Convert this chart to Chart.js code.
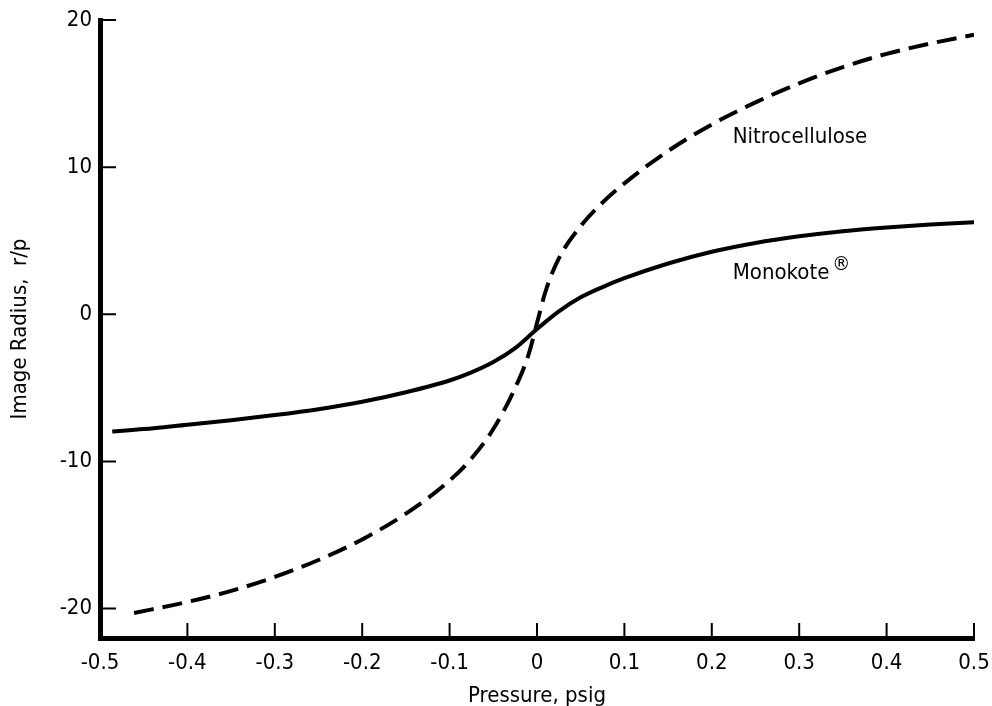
<!DOCTYPE html>
<html>
<head>
<meta charset="utf-8">
<script src="https://cdn.jsdelivr.net/npm/chart.js@4.4.1/dist/chart.umd.min.js"></script>
<style>
  html, body { margin: 0; padding: 0; background: #fff; }
  #wrap { width: 992px; height: 706px; }
</style>
</head>
<body>
<div id="wrap"><canvas id="chart" width="992" height="706"></canvas></div>
<script>
/* ============================
   DATA
============================ */

const monoX = [-0.486, -0.45, -0.4, -0.35, -0.3, -0.25, -0.2, -0.15, -0.1, -0.075, -0.05, -0.025, 0, 0.025, 0.05, 0.075, 0.1, 0.15, 0.2, 0.25, 0.3, 0.35, 0.4, 0.45, 0.5];
const monoY = [-7.96, -7.8, -7.5, -7.2, -6.85, -6.45, -5.95, -5.3, -4.5, -3.95, -3.25, -2.3, -1.0, 0.2, 1.15, 1.85, 2.45, 3.45, 4.25, 4.85, 5.3, 5.65, 5.9, 6.1, 6.25];

const nitroX = [-0.461, -0.4, -0.35, -0.3, -0.25, -0.2, -0.15, -0.1, -0.075, -0.05, -0.025, -0.01, 0, 0.01, 0.025, 0.05, 0.075, 0.1, 0.15, 0.2, 0.25, 0.3, 0.35, 0.4, 0.45, 0.5];
const nitroY = [-20.3, -19.55, -18.8, -17.85, -16.7, -15.3, -13.55, -11.3, -9.8, -7.8, -5.0, -2.8, -0.6, 1.6, 3.8, 6.0, 7.6, 8.9, 11.1, 12.9, 14.4, 15.7, 16.8, 17.7, 18.4, 19.0];

const xTicks = [-0.5, -0.4, -0.3, -0.2, -0.1, 0, 0.1, 0.2, 0.3, 0.4, 0.5];
const xTickLabels = ["-0.5", "-0.4", "-0.3", "-0.2", "-0.1", "0", "0.1", "0.2", "0.3", "0.4", "0.5"];
const yTicks = [-20, -10, 0, 10, 20];
const yTickLabels = ["-20", "-10", "0", "10", "20"];

const FONT = "'Liberation Sans Narrow', 'DejaVu Sans Condensed', sans-serif";

/* ============================
   INWARD TICKS + CURVE LABELS
============================ */

const innerTicks = {
  id: "innerTicks",
  afterDraw(chart){
    const { ctx } = chart;
    const xs = chart.scales.x;
    const ys = chart.scales.y;
    const area = chart.chartArea;

    ctx.save();
    ctx.strokeStyle = "#000";
    ctx.lineWidth = 2;
    ctx.beginPath();
    xTicks.forEach(v => {
      const px = xs.getPixelForValue(v);
      ctx.moveTo(px, area.bottom);
      ctx.lineTo(px, area.bottom - 15);
    });
    yTicks.forEach(v => {
      const py = ys.getPixelForValue(v);
      ctx.moveTo(area.left, py);
      ctx.lineTo(area.left + 16, py);
    });
    ctx.stroke();

    // curve labels
    ctx.fillStyle = "#000";
    ctx.font = "22px " + FONT;
    ctx.textAlign = "left";
    ctx.textBaseline = "middle";
    const lx = xs.getPixelForValue(0.224);
    ctx.fillText("Nitrocellulose", lx, ys.getPixelForValue(12.0));
    const my = ys.getPixelForValue(2.8);
    ctx.fillText("Monokote", lx, my);
    const w = ctx.measureText("Monokote").width;
    ctx.font = "20px " + FONT;
    ctx.fillText("\u00AE", lx + w + 3, my - 8);
    ctx.restore();
  }
};

/* ============================
   CHART
============================ */

const toPoints = (xs, ys) => xs.map((x, i) => ({ x: x, y: ys[i] }));

new Chart(document.getElementById("chart"), {
  type: "line",
  data: {
    datasets: [
      {
        label: "Nitrocellulose",
        data: toPoints(nitroX, nitroY),
        borderColor: "#000",
        borderWidth: 4,
        borderDash: [20, 9],
        pointRadius: 0,
        cubicInterpolationMode: "monotone",
        fill: false
      },
      {
        label: "Monokote",
        data: toPoints(monoX, monoY),
        borderColor: "#000",
        borderWidth: 4,
        pointRadius: 0,
        cubicInterpolationMode: "monotone",
        fill: false
      }
    ]
  },
  options: {
    responsive: false,
    animation: false,
    layout: { padding: { top: 20, right: 18, bottom: 0, left: 0 } },
    plugins: {
      legend: { display: false },
      tooltip: { enabled: false }
    },
    scales: {
      x: {
        type: "linear",
        min: -0.5,
        max: 0.5,
        afterBuildTicks: s => { s.ticks = xTicks.map(v => ({ value: v })); },
        afterFit: s => { s.height = 68; s.paddingLeft = 0; s.paddingRight = 0; },
        grid: { display: false, drawTicks: false },
        border: { display: true, color: "#000", width: 5 },
        ticks: {
          color: "#000",
          padding: 12,
          maxRotation: 0,
          autoSkip: false,
          font: { family: FONT, size: 22 },
          callback: (v, i) => xTickLabels[i]
        },
        title: {
          display: true,
          text: "Pressure, psig",
          color: "#000",
          padding: { top: 0, bottom: -3 },
          font: { family: FONT, size: 22 }
        }
      },
      y: {
        type: "linear",
        min: -22,
        max: 20,
        afterBuildTicks: s => { s.ticks = yTicks.map(v => ({ value: v })); },
        afterFit: s => { s.width = 100; s.paddingTop = 0; s.paddingBottom = 0; },
        grid: { display: false, drawTicks: false },
        border: { display: true, color: "#000", width: 5 },
        ticks: {
          color: "#000",
          padding: 8,
          autoSkip: false,
          font: { family: FONT, size: 22 },
          callback: (v, i) => yTickLabels[i]
        },
        title: {
          display: true,
          text: "Image Radius,  r/p",
          color: "#000",
          padding: { top: 7, bottom: 0 },
          font: { family: FONT, size: 22 }
        }
      }
    }
  },
  plugins: [innerTicks]
});
</script>
</body>
</html>
